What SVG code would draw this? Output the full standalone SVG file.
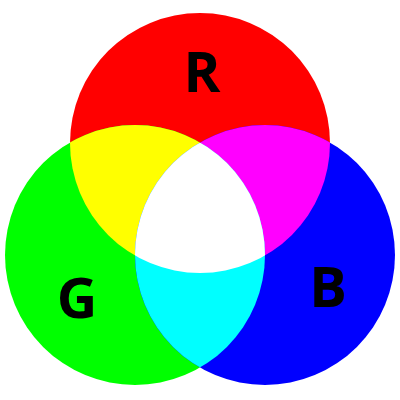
<svg xmlns="http://www.w3.org/2000/svg" width="400" height="400" viewBox="0 0 400 400">
<style>
.lbl{font-family:"Open Sans","DejaVu Sans",sans-serif;font-weight:bold;font-size:56px;fill:#000;text-anchor:middle}
</style>
<defs>
<circle id="cr" cx="200" cy="143" r="130"/>
<circle id="cg" cx="135" cy="255" r="130"/>
<circle id="cb" cx="265" cy="255" r="130"/>
<clipPath id="clipR"><use href="#cr"/></clipPath>
<clipPath id="clipG"><use href="#cg"/></clipPath>
</defs>
<rect width="400" height="400" fill="#fff"/>
<g id="red"><use href="#cr" fill="#f00"/></g>
<g id="green"><use href="#cg" fill="#0f0"/></g>
<g id="blue"><use href="#cb" fill="#00f"/></g>
<g id="yellow" clip-path="url(#clipR)"><use href="#cg" fill="#ff0"/></g>
<g id="magenta" clip-path="url(#clipR)"><use href="#cb" fill="#f0f"/></g>
<g id="cyan" clip-path="url(#clipG)"><use href="#cb" fill="#0ff"/></g>
<g id="white" clip-path="url(#clipR)"><g clip-path="url(#clipG)"><use href="#cb" fill="#fff"/></g></g>
<text class="lbl" x="202" y="92">R</text>
<text class="lbl" x="77" y="318">G</text>
<text class="lbl" x="328" y="307">B</text>
</svg>
